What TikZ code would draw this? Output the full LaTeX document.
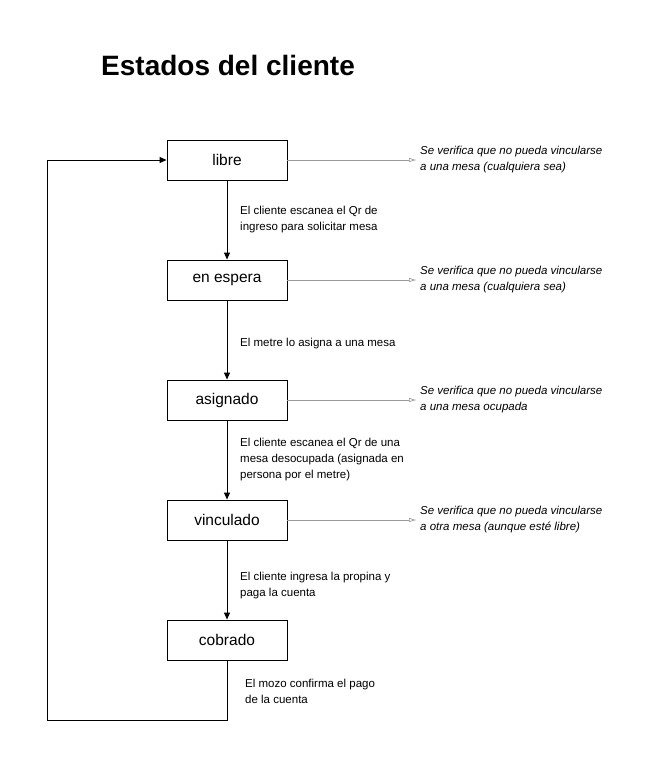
\documentclass[tikz,border=0pt]{standalone}
\usepackage{fontspec}
\setmainfont{Liberation Sans}
\usetikzlibrary{arrows.meta}
\begin{document}
\begin{tikzpicture}[x=1pt,y=-1pt,
  state/.style={draw,line width=0.9pt,minimum width=120pt,minimum height=40pt,inner sep=0pt,font=\fontsize{15.5}{18}\selectfont},
  flow/.style={draw,line width=0.9pt,-{Triangle[length=7pt,width=6pt]}},
  notearrow/.style={draw=gray!80,line width=0.7pt,-{Triangle[open,length=7pt,width=4pt]}},
  note/.style={anchor=west,align=left,inner sep=0pt,font=\fontsize{11.5}{16}\selectfont\itshape},
  elabel/.style={anchor=west,align=left,inner sep=0pt,font=\fontsize{11.5}{16}\selectfont}]
\useasboundingbox (0,0) rectangle (668,769);
\node[anchor=west,inner sep=0pt,font=\fontsize{28}{32}\selectfont\bfseries] (title) at (101,65) {Estados del cliente};
\node[state] (libre) at (227,160) {libre};
\node[state] (espera) at (227,280) {en espera};
\node[state] (asignado) at (227,400) {asignado};
\node[state] (vinculado) at (227,520) {vinculado};
\node[state] (cobrado) at (227,640) {cobrado};
\draw[flow] (libre) -- (espera);
\draw[flow] (espera) -- (asignado);
\draw[flow] (asignado) -- (vinculado);
\draw[flow] (vinculado) -- (cobrado);
\coordinate (c1) at (227,720);
\coordinate (c2) at (47,720);
\coordinate (c3) at (47,160);
\draw[flow] (cobrado.south) -- (c1) -- (c2) -- (c3) -- (libre.west);
\node[elabel] (l1) at (240,220) {El cliente escanea el Qr de\\ingreso para solicitar mesa};
\node[elabel] (l2) at (240,344) {El metre lo asigna a una mesa};
\node[elabel] (l3) at (240,460) {El cliente escanea el Qr de una\\mesa desocupada (asignada en\\persona por el metre)};
\node[elabel] (l4) at (240,586) {El cliente ingresa la propina y\\paga la cuenta};
\node[elabel] (l5) at (245,691) {El mozo confirma el pago\\de la cuenta};
\node[note] (n1) at (420,160) {Se verifica que no pueda vincularse\\a una mesa (cualquiera sea)};
\node[note] (n2) at (420,280) {Se verifica que no pueda vincularse\\a una mesa (cualquiera sea)};
\node[note] (n3) at (420,400) {Se verifica que no pueda vincularse\\a una mesa ocupada};
\node[note] (n4) at (420,520) {Se verifica que no pueda vincularse\\a otra mesa (aunque esté libre)};
\draw[notearrow] (libre.east) -- ([xshift=-4pt]n1.west);
\draw[notearrow] (espera.east) -- ([xshift=-4pt]n2.west);
\draw[notearrow] (asignado.east) -- ([xshift=-4pt]n3.west);
\draw[notearrow] (vinculado.east) -- ([xshift=-4pt]n4.west);
\end{tikzpicture}
\end{document}
